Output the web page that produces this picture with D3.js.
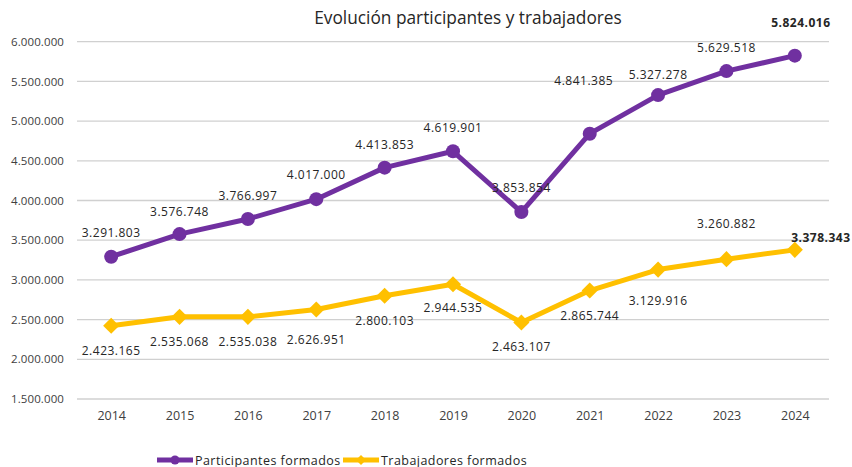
<!DOCTYPE html>
<html>
<head>
<meta charset="utf-8">
<script src="https://cdn.jsdelivr.net/npm/d3@7/dist/d3.min.js"></script>
<style>
  body { margin: 0; background: #fff; }
  text { font-family: "Open Sans", "Noto Sans", sans-serif; fill: #262626; }
</style>
</head>
<body>
<div id="chart"></div>
<script>
var years = ["2014","2015","2016","2017","2018","2019","2020","2021","2022","2023","2024"];
var participantes = [3291803,3576748,3766997,4017000,4413853,4619901,3853854,4841385,5327278,5629518,5824016];
var trabajadores = [2423165,2535068,2535038,2626951,2800103,2944535,2463107,2865744,3129916,3260882,3378343];
var yTicks = [1500000,2000000,2500000,3000000,3500000,4000000,4500000,5000000,5500000,6000000];
var seriesNames = ["Participantes formados","Trabajadores formados"];

var width = 852, height = 467;
var margin = {top: 41.7, right: 23, bottom: 68, left: 77};

var svg = d3.select("#chart").append("svg")
  .attr("width", width).attr("height", height);

var xScale = d3.scalePoint().domain(years)
  .range([margin.left, width - margin.right]).padding(0.5);
var yScale = d3.scaleLinear().domain([1500000, 6000000])
  .range([height - margin.bottom, margin.top]);

var fmt = function(v){ return d3.format(",")(v).replace(/,/g, "."); };

// gridlines
svg.append("g").selectAll("line").data(yTicks).enter().append("line")
  .attr("x1", margin.left).attr("x2", width - margin.right)
  .attr("y1", function(d){ return yScale(d); })
  .attr("y2", function(d){ return yScale(d); })
  .attr("stroke", "#d0d0d0").attr("stroke-width", 1.3);

// y axis labels
var yAxis = d3.axisLeft(yScale).tickValues(yTicks).tickFormat(fmt).tickSize(0).tickPadding(13);
var gy = svg.append("g").attr("transform", "translate(" + margin.left + ",0)").call(yAxis);
gy.select(".domain").remove();
gy.selectAll("text").style("font-size", "11.5px").style("fill", "#404040")
  .style("font-family", "'Open Sans', sans-serif").attr("letter-spacing", "0.1");

// x axis labels
var xAxis = d3.axisBottom(xScale).tickSize(0).tickPadding(12);
var gx = svg.append("g").attr("transform", "translate(0," + (height - margin.bottom) + ")").call(xAxis);
gx.select(".domain").remove();
gx.selectAll("text").style("font-size", "12.5px").style("fill", "#404040")
  .style("font-family", "'Open Sans', sans-serif");

// title
svg.append("text").attr("x", 468).attr("y", 24).attr("text-anchor", "middle")
  .style("font-size", "17.3px").text("Evolución participantes y trabajadores");

var line = d3.line()
  .x(function(d, i){ return xScale(years[i]); })
  .y(function(d){ return yScale(d); });

var purple = "#7030A0", yellow = "#FFC000";

// participantes
svg.append("path").datum(participantes).attr("d", line)
  .attr("fill", "none").attr("stroke", purple).attr("stroke-width", 5).attr("stroke-linejoin", "round");
svg.append("g").selectAll("circle").data(participantes).enter().append("circle")
  .attr("cx", function(d, i){ return xScale(years[i]); })
  .attr("cy", function(d){ return yScale(d); })
  .attr("r", 7).attr("fill", purple);

// trabajadores
svg.append("path").datum(trabajadores).attr("d", line)
  .attr("fill", "none").attr("stroke", yellow).attr("stroke-width", 5).attr("stroke-linejoin", "round");
svg.append("g").selectAll("path").data(trabajadores).enter().append("path")
  .attr("d", d3.symbol().type(d3.symbolSquare).size(130))
  .attr("transform", function(d, i){ return "translate(" + xScale(years[i]) + "," + yScale(d) + ") rotate(45)"; })
  .attr("fill", yellow);

// data labels: offsets relative to the point
var pShift = [[0,-20],[0,-18],[0,-19],[0,-20],[0,-19],[0,-19],[0,-20],[-6,-49],[0,-16],[0,-19],[6,-29]];
var tShift = [[0,29],[0,29],[0,29],[0,34],[0,29],[0,28],[0,28],[0,29],[0,35],[0,-31],[26,-8]];

function labels(values, shift){
  svg.append("g").selectAll("text").data(values).enter().append("text")
    .attr("x", function(d, i){ return xScale(years[i]) + shift[i][0]; })
    .attr("y", function(d, i){ return yScale(d) + shift[i][1]; })
    .attr("text-anchor", "middle")
    .attr("letter-spacing", "0.5")
    .style("font-size", "12px")
    .style("font-weight", function(d, i){ return i === values.length - 1 ? "bold" : "normal"; })
    .text(fmt);
}
labels(participantes, pShift);
labels(trabajadores, tShift);

// legend
var legend = [
  {name: seriesNames[0], color: purple, x: 157, shape: "circle"},
  {name: seriesNames[1], color: yellow, x: 343, shape: "diamond"}
];
var ly = 460;
legend.forEach(function(l){
  var g = svg.append("g");
  g.append("line").attr("x1", l.x).attr("x2", l.x + 36).attr("y1", ly).attr("y2", ly)
    .attr("stroke", l.color).attr("stroke-width", 5);
  if (l.shape === "circle") {
    g.append("circle").attr("cx", l.x + 18).attr("cy", ly).attr("r", 4.5).attr("fill", l.color);
  } else {
    g.append("path").attr("d", d3.symbol().type(d3.symbolSquare).size(50))
      .attr("transform", "translate(" + (l.x + 18) + "," + ly + ") rotate(45)").attr("fill", l.color);
  }
  g.append("text").attr("x", l.x + 38).attr("y", ly + 4.5)
    .style("font-size", "12.5px").attr("letter-spacing", "0.45").text(l.name);
});
</script>
</body>
</html>
